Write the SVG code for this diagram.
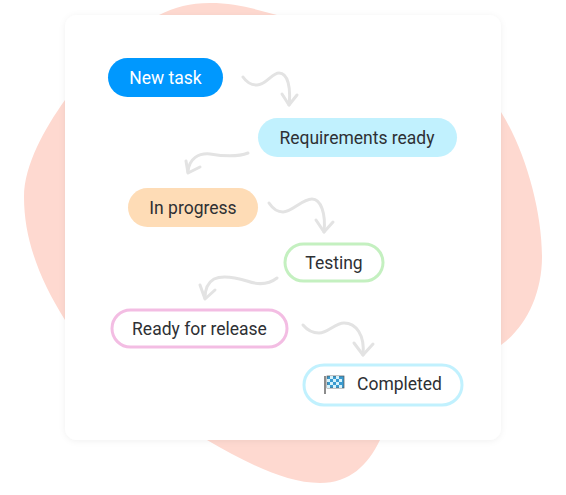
<svg xmlns="http://www.w3.org/2000/svg" width="566" height="495" viewBox="0 0 566 495">
<style>
text{font-family:Roboto,"Liberation Sans",sans-serif;font-size:17.5px;fill:#2e3034;text-anchor:middle;dominant-baseline:central}
.c{fill:none;stroke:#e3e3e3;stroke-width:3;stroke-linecap:round;stroke-linejoin:round}
.o{stroke-width:3;fill:#fff}
</style>
<defs><filter id="s" x="-5%" y="-5%" width="110%" height="110%"><feDropShadow dx="0" dy="1" stdDeviation="3" flood-color="#000" flood-opacity="0.06"/></filter></defs>
<path d="M159 15C175 7 190 3 210 3C235 3 255 9 277 15L501 112C525 150 542 210 542 257C542 295 525 328 501 345L380 440C368 465 350 483 320 483C285 483 245 462 207 440L65 320C40 280 24 240 24 197C24 165 45 128 65 100Z" fill="#fed9d0"/>
<rect id="card" x="65" y="15" width="436" height="425" rx="12" fill="#fff" filter="url(#s)"/>
<g id="connectors" class="c">
<path d="M243 77C247 83 252 85 257 85C266 85 272 73 279 73C288 73 291 88 289 105"/>
<path d="M282 94L289 105L297 95"/>
<path d="M248 153C238 157 222 156 210 154C199 153 189 158 188 172"/>
<path d="M186 161L188 173L200 167"/>
<path d="M269 203C273 209 278 212 283 212C292 212 302 199 312 199C321 199 326 214 324 232"/>
<path d="M316 220L324 232L333 222"/>
<path d="M277 278C268 285 258 285 247 281C234 277 222 275 214 279C207 283 205 289 205 298"/>
<path d="M200 285L205 299L215 290"/>
<path d="M303 325C308 331 313 333 319 333C328 333 335 323 344 323C356 323 365 335 363 355"/>
<path d="M354 343L363 355L373 344"/>
</g>
<g id="new-task"><rect x="108" y="58" width="115" height="39" rx="19.500" fill="#0098fe"/><text x="165.500" y="77.500" style="fill:#fff">New task</text></g>
<g id="requirements-ready"><rect x="258" y="118" width="199" height="39" rx="19.500" fill="#c1f1fe"/><text x="357" y="137.500">Requirements ready</text></g>
<g id="in-progress"><rect x="128" y="188" width="130" height="39" rx="19.500" fill="#fedcb6"/><text x="193" y="207.500">In progress</text></g>
<g id="testing"><rect x="285" y="244" width="98" height="37" rx="18.500" class="o" stroke="#c4f0c0"/><text x="334" y="262.500">Testing</text></g>
<g id="ready-for-release"><rect x="112" y="310" width="175" height="37" rx="18.500" class="o" stroke="#f3bde3"/><text x="199.500" y="328.500">Ready for release</text></g>
<g id="completed"><rect x="304" y="365" width="158" height="40" rx="20" class="o" stroke="#c1f1fe"/>
<path d="M325 376V394" stroke="#666" stroke-width="1.500" fill="none"/>
<rect x="327" y="376" width="17" height="12" fill="#3a9bd0" stroke="#555" stroke-width="0.700"/>
<path d="M330 376h3v3h-3zM336 376h3v3h-3zM327 379h3v3h-3zM333 379h3v3h-3zM339 379h3v3h-3zM330 382h3v3h-3zM336 382h3v3h-3zM327 385h3v3h-3zM333 385h3v3h-3zM339 385h3v3h-3z" fill="#d5f2fb"/>
<text x="399.500" y="384">Completed</text></g>
</svg>
